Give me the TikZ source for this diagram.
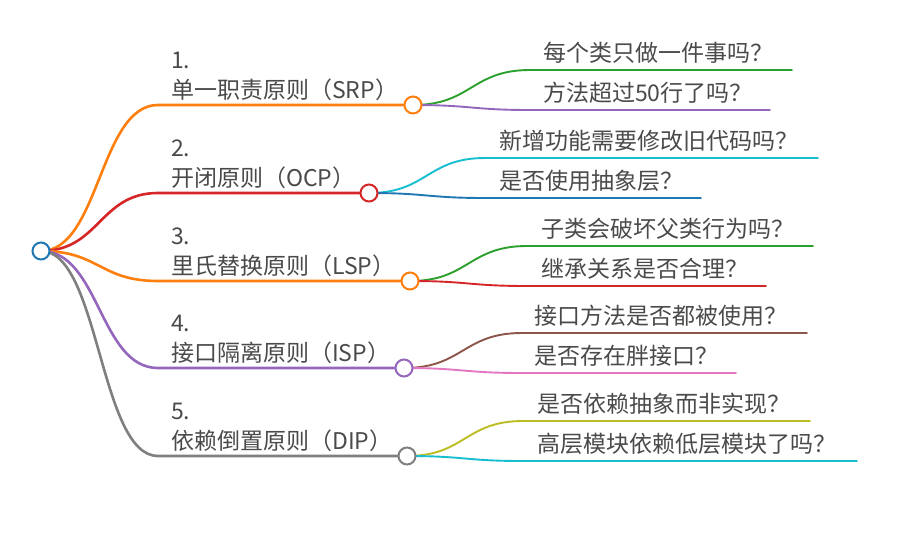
\documentclass[tikz,border=0pt]{standalone}
\usepackage{fontspec}
\setmainfont{Noto Sans CJK SC}
\usetikzlibrary{calc}
\definecolor{cBlue}{HTML}{1F77B4}
\definecolor{cOrange}{HTML}{FF7F0E}
\definecolor{cGreen}{HTML}{2CA02C}
\definecolor{cRed}{HTML}{D62728}
\definecolor{cPurple}{HTML}{9467BD}
\definecolor{cBrown}{HTML}{8C564B}
\definecolor{cPink}{HTML}{E377C2}
\definecolor{cGray}{HTML}{7F7F7F}
\definecolor{cOlive}{HTML}{BCBD22}
\definecolor{cCyan}{HTML}{17BECF}
\definecolor{txt}{HTML}{4A4A4A}
\tikzset{
  hlink/.style={to path={.. controls ($(\tikztostart)!0.5!(\tikztostart -| \tikztotarget)$) and ($(\tikztotarget)!0.5!(\tikztotarget -| \tikztostart)$) .. (\tikztotarget)}},
  mainline/.style={line width=2.6pt, line cap=round},
  subline/.style={line width=1.9pt, line cap=round},
  dot/.style={circle, draw, fill=white, line width=2pt, minimum size=17pt, inner sep=0pt},
  mainlabel/.style={anchor=base west, align=left, inner sep=0pt, text=txt, font=\fontsize{23}{30}\selectfont},
  sublabel/.style={anchor=base west, inner sep=0pt, text=txt, font=\fontsize{23}{28}\selectfont},
}
\begin{document}
\begin{tikzpicture}[x=1pt,y=-1pt]
\useasboundingbox[fill=white] (0,0) rectangle (922,549);

% root
\coordinate (rootc) at (41,251);

% ---------- branch 1 ----------
\coordinate (m1) at (158,105);
\coordinate (b1c) at (413,105);
\coordinate (q11s) at (530,70);  \coordinate (q11e) at (792,70);
\coordinate (q12s) at (530,110); \coordinate (q12e) at (770,110);
\draw[subline, cGreen]  (b1c) to[hlink] (q11s) -- (q11e);
\draw[subline, cPurple] (b1c) to[hlink] (q12s) -- (q12e);
\draw[mainline, cOrange] (rootc) to[hlink] (m1) -- (b1c);
\node[mainlabel] (t1) at (171,98.5) {1.\\单一职责原则（SRP）};
\node[sublabel] (t11) at (543,61.2) {每个类只做一件事吗？};
\node[sublabel] (t12) at (543,101.2) {方法超过50行了吗？};

% ---------- branch 2 ----------
\coordinate (m2) at (158,193);
\coordinate (b2c) at (369,193);
\coordinate (q21s) at (485,158); \coordinate (q21e) at (818,158);
\coordinate (q22s) at (485,198); \coordinate (q22e) at (701,198);
\draw[subline, cCyan] (b2c) to[hlink] (q21s) -- (q21e);
\draw[subline, cBlue] (b2c) to[hlink] (q22s) -- (q22e);
\draw[mainline, cRed] (rootc) to[hlink] (m2) -- (b2c);
\node[mainlabel] (t2) at (171,186.5) {2.\\开闭原则（OCP）};
\node[sublabel] (t21) at (499,149.2) {新增功能需要修改旧代码吗？};
\node[sublabel] (t22) at (499,189.2) {是否使用抽象层？};

% ---------- branch 3 ----------
\coordinate (m3) at (158,281);
\coordinate (b3c) at (410,281);
\coordinate (q31s) at (527,246); \coordinate (q31e) at (813,246);
\coordinate (q32s) at (527,286); \coordinate (q32e) at (766,286);
\draw[subline, cGreen] (b3c) to[hlink] (q31s) -- (q31e);
\draw[subline, cRed]   (b3c) to[hlink] (q32s) -- (q32e);
\draw[mainline, cOrange] (rootc) to[hlink] (m3) -- (b3c);
\node[mainlabel] (t3) at (171,274.5) {3.\\里氏替换原则（LSP）};
\node[sublabel] (t31) at (541,237.2) {子类会破坏父类行为吗？};
\node[sublabel] (t32) at (541,277.2) {继承关系是否合理？};

% ---------- branch 4 ----------
\coordinate (m4) at (158,368);
\coordinate (b4c) at (404,368);
\coordinate (q41s) at (522,333); \coordinate (q41e) at (807,333);
\coordinate (q42s) at (522,373); \coordinate (q42e) at (736,373);
\draw[subline, cBrown] (b4c) to[hlink] (q41s) -- (q41e);
\draw[subline, cPink]  (b4c) to[hlink] (q42s) -- (q42e);
\draw[mainline, cPurple] (rootc) to[hlink] (m4) -- (b4c);
\node[mainlabel] (t4) at (171,361.5) {4.\\接口隔离原则（ISP）};
\node[sublabel] (t41) at (534,324.2) {接口方法是否都被使用？};
\node[sublabel] (t42) at (534,364.2) {是否存在胖接口？};

% ---------- branch 5 ----------
\coordinate (m5) at (158,456);
\coordinate (b5c) at (407,456);
\coordinate (q51s) at (523,421); \coordinate (q51e) at (810,421);
\coordinate (q52s) at (523,461); \coordinate (q52e) at (857,461);
\draw[subline, cOlive] (b5c) to[hlink] (q51s) -- (q51e);
\draw[subline, cCyan]  (b5c) to[hlink] (q52s) -- (q52e);
\draw[mainline, cGray] (rootc) to[hlink] (m5) -- (b5c);
\node[mainlabel] (t5) at (171,449.5) {5.\\依赖倒置原则（DIP）};
\node[sublabel] (t51) at (537,412.2) {是否依赖抽象而非实现？};
\node[sublabel] (t52) at (537,452.2) {高层模块依赖低层模块了吗？};

% circles on top
\node[dot, draw=cBlue]   (root) at (rootc) {};
\node[dot, draw=cOrange] (b1) at (b1c) {};
\node[dot, draw=cRed]    (b2) at (b2c) {};
\node[dot, draw=cOrange] (b3) at (b3c) {};
\node[dot, draw=cPurple] (b4) at (b4c) {};
\node[dot, draw=cGray]   (b5) at (b5c) {};
\end{tikzpicture}
\end{document}
